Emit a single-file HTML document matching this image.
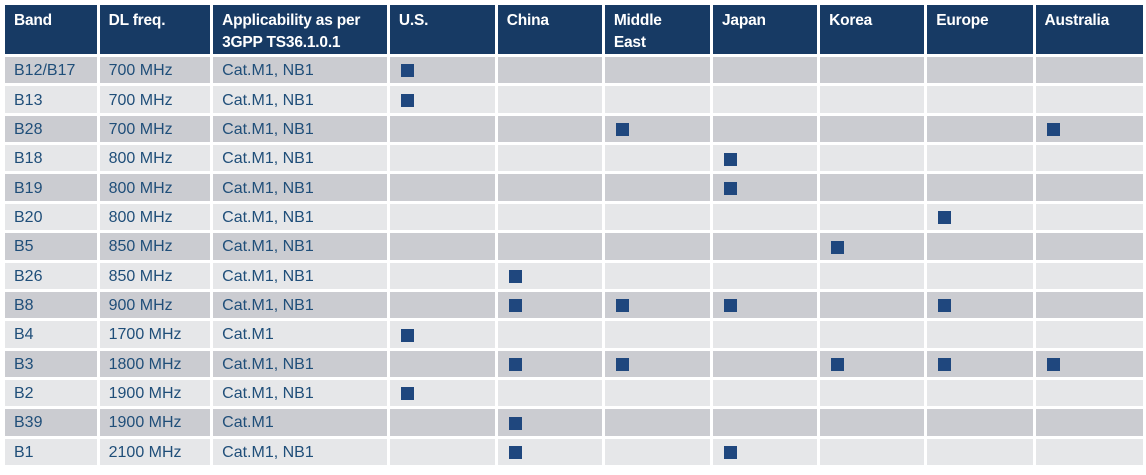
<!DOCTYPE html>
<html><head><meta charset="utf-8"><style>
html,body{margin:0;padding:0;background:#fff;width:1146px;height:475px;overflow:hidden}
table{position:absolute;left:2px;top:2px;border-collapse:separate;border-spacing:3px;table-layout:fixed;font-family:"Liberation Sans",sans-serif;font-size:16px}
th{background:#173a64;color:#fff;font-weight:bold;text-align:left;vertical-align:top;height:49px;padding:5px 0 0 9px;box-sizing:border-box;line-height:22px;font-size:15.5px;letter-spacing:-0.2px}
td{height:26.36px;padding:2px 0 0 9px;box-sizing:border-box;color:#1f4e79;white-space:nowrap;line-height:20px;vertical-align:middle}
tr.d td{background:#cbccd1}
tr.l td{background:#e6e7e9}
i{display:inline-block;width:13px;height:13px;background:#1f477e;vertical-align:middle;margin-left:2px}
</style></head><body>
<table>
<colgroup><col style="width:92px"><col style="width:111px"><col style="width:175px"><col style="width:106px"><col style="width:105px"><col style="width:106px"><col style="width:105px"><col style="width:105px"><col style="width:106px"><col style="width:108px"></colgroup>
<tr><th>Band</th><th>DL freq.</th><th>Applicability as per<br>3GPP TS36.1.0.1</th><th>U.S.</th><th>China</th><th>Middle<br>East</th><th>Japan</th><th>Korea</th><th>Europe</th><th>Australia</th></tr>
<tr class="d"><td>B12/B17</td><td>700 MHz</td><td>Cat.M1, NB1</td><td><i></i></td><td></td><td></td><td></td><td></td><td></td><td></td></tr>
<tr class="l"><td>B13</td><td>700 MHz</td><td>Cat.M1, NB1</td><td><i></i></td><td></td><td></td><td></td><td></td><td></td><td></td></tr>
<tr class="d"><td>B28</td><td>700 MHz</td><td>Cat.M1, NB1</td><td></td><td></td><td><i></i></td><td></td><td></td><td></td><td><i></i></td></tr>
<tr class="l"><td>B18</td><td>800 MHz</td><td>Cat.M1, NB1</td><td></td><td></td><td></td><td><i></i></td><td></td><td></td><td></td></tr>
<tr class="d"><td>B19</td><td>800 MHz</td><td>Cat.M1, NB1</td><td></td><td></td><td></td><td><i></i></td><td></td><td></td><td></td></tr>
<tr class="l"><td>B20</td><td>800 MHz</td><td>Cat.M1, NB1</td><td></td><td></td><td></td><td></td><td></td><td><i></i></td><td></td></tr>
<tr class="d"><td>B5</td><td>850 MHz</td><td>Cat.M1, NB1</td><td></td><td></td><td></td><td></td><td><i></i></td><td></td><td></td></tr>
<tr class="l"><td>B26</td><td>850 MHz</td><td>Cat.M1, NB1</td><td></td><td><i></i></td><td></td><td></td><td></td><td></td><td></td></tr>
<tr class="d"><td>B8</td><td>900 MHz</td><td>Cat.M1, NB1</td><td></td><td><i></i></td><td><i></i></td><td><i></i></td><td></td><td><i></i></td><td></td></tr>
<tr class="l"><td>B4</td><td>1700 MHz</td><td>Cat.M1</td><td><i></i></td><td></td><td></td><td></td><td></td><td></td><td></td></tr>
<tr class="d"><td>B3</td><td>1800 MHz</td><td>Cat.M1, NB1</td><td></td><td><i></i></td><td><i></i></td><td></td><td><i></i></td><td><i></i></td><td><i></i></td></tr>
<tr class="l"><td>B2</td><td>1900 MHz</td><td>Cat.M1, NB1</td><td><i></i></td><td></td><td></td><td></td><td></td><td></td><td></td></tr>
<tr class="d"><td>B39</td><td>1900 MHz</td><td>Cat.M1</td><td></td><td><i></i></td><td></td><td></td><td></td><td></td><td></td></tr>
<tr class="l"><td>B1</td><td>2100 MHz</td><td>Cat.M1, NB1</td><td></td><td><i></i></td><td></td><td><i></i></td><td></td><td></td><td></td></tr>
</table>
</body></html>
